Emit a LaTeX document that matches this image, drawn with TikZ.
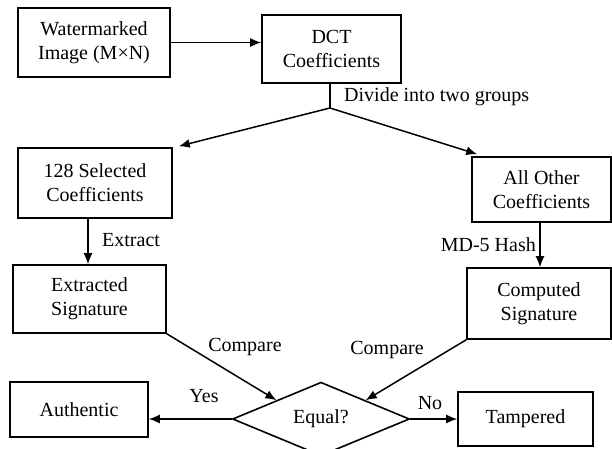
\documentclass[tikz,border=0pt]{standalone}
\usepackage{fontspec}
\setmainfont{Liberation Serif}
\usetikzlibrary{shapes.geometric,arrows.meta,calc}
\begin{document}
\begin{tikzpicture}[x=1pt,y=-1pt,
  font=\fontsize{20}{24}\selectfont,
  box/.style={draw,line width=1.6pt,inner sep=0pt,align=center},
  arr/.style={line width=1.5pt,-{Latex[length=11pt,width=9pt]}},
  ln/.style={line width=1.5pt},
  lbl/.style={inner sep=0pt}]
\useasboundingbox (0,0) rectangle (612,448);
\node[box,minimum width=152,minimum height=69] (wm) at (94,42.5) {Watermarked\\Image (M×N)};
\node[box,minimum width=139,minimum height=68] (dct) at (331.5,49) {DCT\\Coefficients};
\node[box,minimum width=154,minimum height=70] (sel) at (95,183) {128 Selected\\Coefficients};
\node[box,minimum width=139,minimum height=65] (oth) at (541.5,189.5) {All Other\\Coefficients};
\node[box,minimum width=153,minimum height=68] (ext) at (89.5,299) {Extracted\\Signature};
\node[box,minimum width=144,minimum height=71] (comp) at (539,303.5) {Computed\\Signature};
\node[box,minimum width=138,minimum height=55] (auth) at (79,409.5) {Authentic};
\node[box,minimum width=135,minimum height=54] (tamp) at (525.5,419) {Tampered};
\node[draw,diamond,line width=1.6pt,inner sep=0pt,minimum width=177,minimum height=58] (eq) at (321,419) {Equal?};

\coordinate (br) at (330,108);
\draw[arr] (wm.east) -- (wm.east -| dct.west);
\draw[ln] (br |- dct.south) -- (br);
\draw[arr] (br) -- ($(sel.north east)+(6,-1)$);
\draw[arr] (br) -- ($(oth.north west)+(6,-2)$);
\draw[arr] ([xshift=-7pt]sel.south) -- ([xshift=-7pt]sel.south |- ext.north);
\draw[arr] ([xshift=-1.5pt]oth.south) -- ([xshift=-1.5pt]oth.south |- comp.north);
\draw[arr] (ext.south east) -- (eq.north west);
\draw[arr] (comp.south west) -- (eq.north east);
\draw[arr] (eq.west) -- (eq.west -| auth.east);
\draw[arr] (eq.east) -- (eq.east -| tamp.west);

\node[lbl,anchor=west] (l1) at (344,97) {Divide into two groups};
\node[lbl,anchor=west] (l2) at (102,240) {Extract};
\node[lbl,anchor=east] (l3) at (536,245) {MD-5 Hash};
\node[lbl] (l4) at (245,347) {Compare};
\node[lbl] (l5) at (387,350) {Compare};
\node[lbl] (l6) at (204,396) {Yes};
\node[lbl] (l7) at (430,403) {No};
\end{tikzpicture}
\end{document}
